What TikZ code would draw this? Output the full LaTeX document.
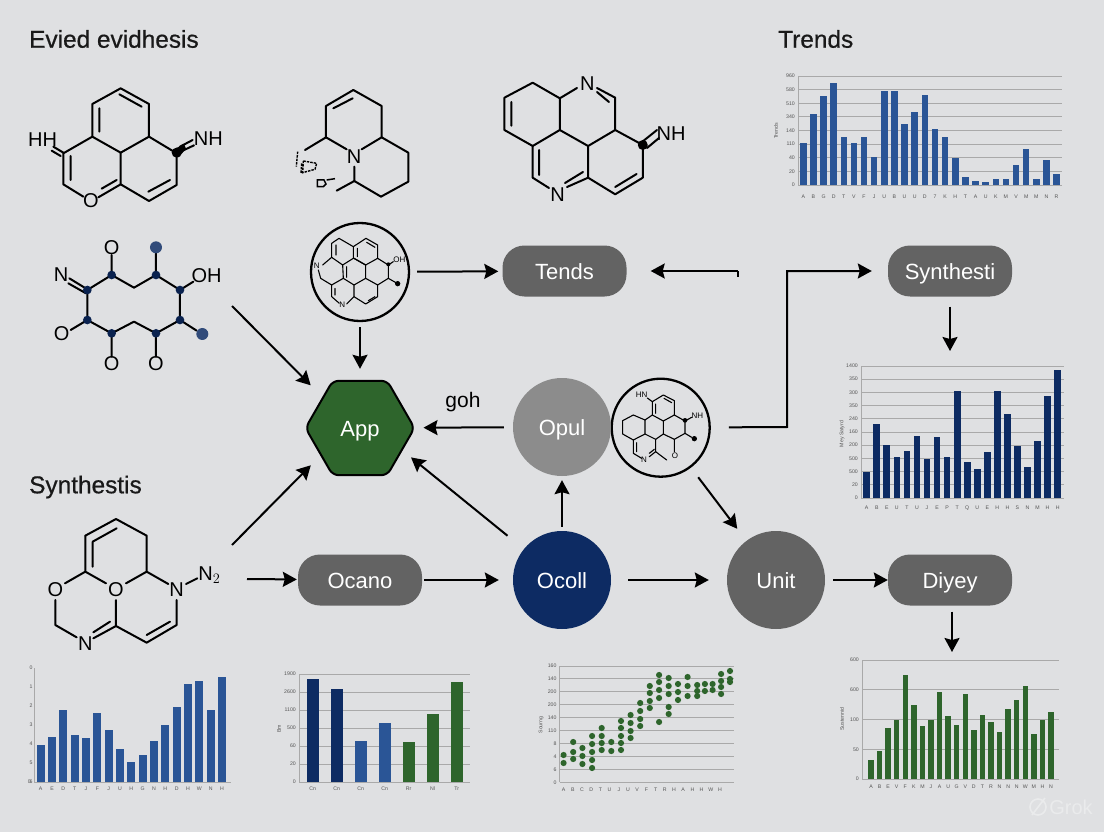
\documentclass[tikz,border=0pt]{standalone}
\usepackage{fontspec}
\setmainfont{Liberation Sans}
\newfontfamily\headfont[FakeBold=0.6]{Liberation Sans}
\usepackage{tikz}
\usetikzlibrary{shapes.geometric,arrows.meta,positioning}
\definecolor{paper}{HTML}{DFE0E2}
\definecolor{navy}{HTML}{0D2B63}
\definecolor{midblue}{HTML}{2A5596}
\definecolor{leaf}{HTML}{2E652C}
\definecolor{slate}{HTML}{636363}
\definecolor{ash}{HTML}{8C8C8C}
\definecolor{rule}{HTML}{A9A9A9}
\definecolor{tiny}{HTML}{555555}
\tikzset{
  title/.style={font=\headfont\fontsize{24.4}{26}\selectfont, inner sep=0pt, text=black!90},
  pill/.style={rectangle, rounded corners=22pt, fill=slate, text=white, minimum width=124pt, minimum height=51pt, font=\fontsize{22}{24}\selectfont, text height=16pt, text depth=0pt, inner sep=0pt},
  disc/.style={circle, text=white, minimum size=98pt, font=\fontsize{22}{24}\selectfont, text height=16pt, text depth=0pt, inner sep=0pt},
  hexa/.style={regular polygon, regular polygon sides=6, rounded corners=6pt, draw=black, line width=2pt, fill=leaf, text=white, minimum size=109pt, font=\fontsize{22}{24}\selectfont, text height=16pt, text depth=0pt, inner sep=0pt},
  ring/.style={circle, draw=black, line width=2.3pt, minimum size=98pt, inner sep=0pt},
  arr/.style={-{Stealth[length=14pt,width=15pt,inset=2pt]}, line width=2pt, black},
  mol/.style={line width=2pt, line join=round, line cap=round},
  molthin/.style={line width=1.1pt, line join=round, line cap=round},
  atom/.style={font=\fontsize{20}{20}\selectfont, inner sep=0pt},
  atomthin/.style={font=\fontsize{8}{8}\selectfont, inner sep=0pt},
  gridline/.style={rule, line width=0.9pt},
  ticktext/.style={font=\fontsize{5.2}{5.5}\selectfont, text=tiny, inner sep=0pt}
}
\newcommand{\chartaxes}[7]{
  \foreach \i in {0,...,#6}
    \draw[gridline] (#2,{#4+(#5-#4)*\i/#6}) -- (#3,{#4+(#5-#4)*\i/#6});
  \draw[gridline] (#2,#4) -- (#2,#5);
  \foreach \lab [count=\i from 0] in {#7}
    \node[ticktext, anchor=east] (#1y\i) at (#2-3,{#4+(#5-#4)*\i/#6}) {\lab};
}
\newcommand{\chartticks}[5]{
  \foreach \lab [count=\i from 0] in {#5}
    \node[ticktext] (#1x\i) at ({#2+#3*\i},#4) {\lab};
}
\newcommand{\chartbars}[6]{
  \foreach \h [count=\i from 0] in {#6}
    \fill[#5] ({#1+#3*\i-#4/2},#2) rectangle +(#4,-\h);
}
\begin{document}
\begin{tikzpicture}[x=1pt,y=-1pt]
\fill[paper] (0,0) rectangle (1104,832);
\useasboundingbox (0,0) rectangle (1104,832);

\node[title, anchor=west] (headA) at (29,39) {Evied evidhesis};
\node[title, anchor=west] (headB) at (778,39) {Trends};
\node[title, anchor=west] (headC) at (29,487) {Synthestis};

\begin{scope}[scale=1/3]
\draw[mol] (362,265) -- (447,312) -- (447,410) -- (362,458) -- (277,410) -- (277,312) -- cycle;
\draw[mol] (277,410) -- (190,460) -- (190,553) -- (250,590);
\draw[mol] (362,458) -- (362,553) -- (447,603) -- (530,555) -- (530,460) -- (447,410);
\draw[mol] (298,325) -- (298,395) (358,283) -- (425,320) (212,468) -- (212,540) (445,575) -- (510,540);
\draw[mol] (362,553) -- (295,592) (350,540) -- (305,566);
\draw[mol] (190,458) -- (160,440) (182,468) -- (155,452);
\draw[mol] (540,440) -- (578,420) (548,452) -- (582,436);
\fill (530,458) circle (15);
\fill (518,450) -- (552,432) -- (558,446) -- (536,472) -- cycle;
\node[atom] (m1hh) at (128,420) {HH};
\node[atom] (m1nh) at (625,415) {NH};
\node[atom] (m1o) at (273,602) {O};

\draw[mol] (1060,270) -- (1145,318) -- (1145,412) -- (1225,458) -- (1225,545) -- (1143,590) -- (1063,543) -- (1063,500);
\draw[mol] (1145,412) -- (1085,448) (1040,448) -- (978,412) -- (978,318) -- (1060,270);
\draw[mol] (1000,325) -- (1058,295) (978,412) -- (915,450) (1063,543) -- (1010,572);
\node[atom] (m2n) at (1062,470) {N};
\draw[line width=1.4pt, dash pattern=on 2.5pt off 1pt] (893,455) -- (889,500) (910,483) -- (950,490) -- (945,508) -- (908,518) -- cycle (905,490) -- (903,520);
\draw[line width=1.5pt] (952,540) -- (972,540) -- (978,552) -- (970,560) -- (952,560) -- cycle (980,540) -- (1005,536);

\draw[mol] (262,870) -- (335,825) -- (402,863) -- (468,825) -- (540,870) -- (540,960) -- (468,1000) -- (402,965) -- (335,1000) -- (262,960) -- cycle;
\draw[mol] (335,825) -- (335,765) (468,825) -- (468,760) (540,870) -- (580,845) (262,960) -- (212,990) (540,960) -- (590,992) (335,1000) -- (335,1070) (468,1000) -- (468,1070);
\draw[mol] (262,868) -- (208,835) (258,880) -- (205,850);
\foreach \px/\py in {262/870,335/825,468/825,540/870,540/960,468/1000,335/1000,262/960}
  \fill[navy!80!black] (\px,\py) circle (13);
\fill[navy!85] (468,742) circle (18) (607,1002) circle (18);
\node[atom] (m4n) at (183,825) {N};
\node[atom] (m4oh) at (620,827) {OH};
\node[atom] (m4oa) at (335,742) {O};
\node[atom] (m4ob) at (185,1002) {O};
\node[atom] (m4oc) at (335,1092) {O};
\node[atom] (m4od) at (468,1092) {O};
\end{scope}

\begin{scope}[shift={(0,500)},scale=1/3]
\draw[mol] (256,107) -- (348,57) -- (440,107) -- (440,215) -- (505,252) (440,215) -- (378,250);
\draw[mol] (256,107) -- (256,215) -- (318,250) (256,215) -- (195,250);
\draw[mol] (166,300) -- (166,375) -- (230,412) (280,415) -- (348,378) -- (440,428) -- (530,375) -- (530,300);
\draw[mol] (348,300) -- (348,378) (278,125) -- (350,85) (278,125) -- (278,200) (280,397) -- (330,365) (440,405) -- (510,365) (558,252) -- (592,235);
\node[atom] (m5oa) at (166,268) {O};
\node[atom] (m5ob) at (348,268) {O};
\node[atom] (m5n) at (530,268) {N};
\node[atom] (m5m) at (256,430) {N};
\node[atom] (m5nn) at (628,225) {N$_2$};
\end{scope}

\draw[mol] (532.7,82.7) -- (504.4,97.7) -- (504.4,130) -- (532.7,146) -- (559.8,130) -- (559.8,98.3) -- cycle;
\draw[mol] (559.8,98.3) -- (577,88) (597,88) -- (615.2,97.7) -- (615.2,130) -- (588.1,146) -- (559.8,130);
\draw[mol] (588.1,146) -- (588.1,177.7) -- (615.2,194.3) -- (642.8,177.7) -- (642.8,145) -- (615.2,130);
\draw[mol] (532.7,146) -- (532.7,177.7) -- (549,188) (567,187) -- (588.1,177.7);
\draw[mol] (511.3,102) -- (511.3,125.7) (597,92) -- (609,102) (539,150) -- (539,175) (565,183) -- (583,172) (615.2,187) -- (636.6,174);
\draw[mol] (642,142) -- (657,130) (647,148) -- (659,138);
\fill (642.8,145) circle (5);
\node[atom] (m3na) at (587.3,84) {N};
\node[atom] (m3nb) at (557.7,194.3) {N};
\node[atom] (m3nh) at (671,134) {NH};

\node[ring] (cirA) at (360,272) {};
\begin{scope}[scale=1/3]
\draw[molthin] (995,730) -- (1017,715) -- (1060,740) -- (1060,775) -- (1028,795) -- (995,772) -- cycle;
\draw[molthin] (1060,740) -- (1098,715) -- (1133,735) -- (1133,775) -- (1097,795) -- (1062,775);
\draw[molthin] (1028,795) -- (1030,835) -- (1062,855) -- (1097,835) -- (1097,795);
\draw[molthin] (1097,795) -- (1062,775) (1133,775) -- (1165,795) -- (1165,835) -- (1133,855) -- (1097,835);
\draw[molthin] (995,772) -- (968,795) (1030,835) -- (995,855) -- (962,835) -- (955,810);
\draw[molthin] (995,855) -- (995,890) -- (1018,910) (1040,912) -- (1062,890) -- (1062,855) (1062,890) -- (1097,912) -- (1133,890) -- (1133,855);
\draw[molthin] (1008,735) -- (1008,765) (1072,745) -- (1072,770) (1100,727) -- (1125,742) (1040,800) -- (1040,832) (1005,865) -- (1005,885) (1105,902) -- (1125,890);
\draw[molthin] (1165,835) -- (1193,851) (1165,795) -- (1180,785);
\fill (1165,793) circle (6) (1193,851) circle (8);
\node[atomthin] (cAoh) at (1198,780) {OH};
\node[atomthin] (cAn) at (950,797) {N};
\node[atomthin] (cAm) at (1027,915) {N};
\end{scope}

\node[ring] (cirB) at (660.7,427.7) {};
\begin{scope}[shift={(490,360)},scale=1/3]
\draw[molthin] (487,125) -- (520,105) -- (553,122) -- (553,165) -- (520,183) -- (487,165) -- cycle;
\draw[molthin] (553,165) -- (585,183) -- (585,220) -- (553,238) -- (520,222) -- (520,183);
\draw[molthin] (487,165) -- (465,180) -- (465,222) -- (497,238) -- (520,222);
\draw[molthin] (465,180) -- (430,165) -- (398,182) -- (398,222) -- (430,240) -- (465,222);
\draw[molthin] (430,240) -- (430,280) -- (455,295) (478,290) -- (497,275) -- (497,238);
\draw[molthin] (497,275) -- (530,300) (553,238) -- (553,275) (585,220) -- (605,232) (585,183) -- (605,172) (487,125) -- (472,114);
\draw[molthin] (497,132) -- (497,160) (522,115) -- (545,128) (440,248) -- (440,275) (478,280) -- (493,268);
\fill (585,181) circle (7) (613,236) circle (8);
\node[atomthin] (cBhn) at (455,105) {HN};
\node[atomthin] (cBnh) at (622,168) {NH};
\node[atomthin] (cBn) at (462,298) {N};
\node[atomthin] (cBo) at (555,287) {O};
\end{scope}

\node[pill] (tends) at (564.5,271) {Tends};
\node[pill] (synth) at (950,271) {Synthesti};
\node[pill] (ocano) at (360,580) {Ocano};
\node[pill] (diyey) at (950,580) {Diyey};
\node[hexa] (app) at (360,428) {App};
\node[disc, fill=ash] (opul) at (562,427) {Opul};
\node[disc, fill=navy] (ocoll) at (562,580) {Ocoll};
\node[disc, fill=slate] (unit) at (776,580) {Unit};
\node[atom, font=\fontsize{21}{21}\selectfont] (goh) at (463,402) {goh};

\coordinate (molEnd) at (232,306);
\coordinate (synEnd) at (232,545);
\coordinate (synOut) at (247,579);
\coordinate (trEnd) at (738,271);
\coordinate (bend) at (787,427);
\coordinate (diyOut) at (952,652);

\draw[arr, shorten >=70pt] (molEnd) -- ([yshift=-7pt]app.center);
\draw[arr, shorten >=70pt] (synEnd) -- ([yshift=12.5pt]app.center);
\draw[arr, shorten <=5pt, shorten >=11pt] (cirA) -- (app);
\draw[arr, shorten <=7pt, shorten >=4pt] (cirA) -- (tends);
\draw[arr, shorten >=24pt] (trEnd) -- (tends);
\draw[line width=2pt] (trEnd) -- ++(0,6);
\draw[arr, shorten <=18pt, shorten >=16pt] (cirB) -- (bend) |- (synth);
\draw[arr, shorten <=10pt, shorten >=4pt] (synth) -- (950,355);
\draw[arr, shorten <=9pt, shorten >=8pt] (opul) -- (app);
\draw[arr, shorten <=4pt, shorten >=4pt] (ocoll) -- (opul);
\draw[arr, shorten <=21pt, shorten >=65.7pt] (ocoll) -- ([yshift=12pt]app.center);
\draw[arr, shorten >=1pt] (synOut) -- (ocano);
\draw[arr, shorten <=2pt, shorten >=14pt] (ocano) -- (ocoll);
\draw[arr, shorten <=17pt, shorten >=18pt] (ocoll) -- (unit);
\draw[arr, shorten <=8pt, shorten >=0pt] (unit) -- (diyey);
\draw[arr, shorten <=12pt, shorten >=15pt] (cirB) -- (unit);
\draw[arr, shorten <=6pt] (diyey.south -| diyOut) -- (diyOut);

\chartaxes{ca}{798}{1062}{76}{185}{8}{960,580,510,340,140,110,40,20,0}
\chartbars{803.3}{185}{10.13}{6.5}{midblue}{41.7,71,89.3,101.7,47.7,41.7,48.3,28.3,94.3,94.3,61,73.3,90,55.7,48.3,26.7,8.3,4.3,3.3,6.3,5.7,20.3,35.7,5.7,24.7,10.7}
\chartticks{ca}{803.3}{10.13}{197}{A,B,G,D,T,V,F,J,U,B,U,U,D,7,K,H,T,A,U,K,M,V,M,M,N,R}
\node[ticktext, rotate=90] (cat) at (776,131) {Trends};

\chartaxes{cb}{861}{1064}{366}{498}{10}{1400,350,300,350,240,160,200,500,500,20,0}
\chartbars{866.7}{498}{10.05}{6.7}{navy}{26.3,74,52.7,40.7,47.3,62.3,39.3,61.3,41,107,36,29,45.7,106.7,83.7,52,31.3,57.3,102,128.3}
\chartticks{cb}{866.7}{10.05}{508}{A,B,E,U,T,U,J,E,P,T,Q,U,E,H,H,S,N,M,H,H}
\node[ticktext, rotate=90] (cbt) at (842,434) {Mey Satyrd};

\chartaxes{cc}{34}{231}{782}{782}{1}{,0}
\draw[gridline] (34,668) -- (34,782);
\foreach \i in {0,...,6}
  \node[ticktext] (ccy\i) at (31,{668+19*\i}) {\i};
\chartbars{40.7}{782}{11.33}{8}{midblue}{36.7,45.3,71.7,46.7,43.7,69,52,33,20,26.7,40.7,56.7,75.3,97.7,101,72,105}
\chartticks{cc}{40.7}{11.33}{789}{A,E,D,T,J,F,J,U,H,G,N,H,D,H,W,N,H}

\chartaxes{cd}{299}{470}{674}{782}{6}{1900,2600,1100,500,60,20,0}
\chartbars{312.7}{782}{24}{12}{navy}{103.3,93}
\chartbars{360.7}{782}{23.8}{12}{midblue}{41.3,59}
\chartbars{409}{782}{24}{12}{leaf}{40.3,67.7,99.7}
\chartticks{cd}{312.7}{24}{789}{Cn,Cn,Cn,Cn,Rr,Nl,Tr}
\node[ticktext, rotate=90] (cdt) at (279,729) {Bm};

\chartaxes{ce}{559.7}{733.8}{666}{782.3}{9}{160,140,200,200,140,110,8,4,6,0}
\foreach \x/\ys in {563.6/{755,763},573.2/{742,752,759},582.4/{748,756,764},592.1/{736,744,752,760,768},601.7/{728,736,743,750},611.3/{742,751},621/{721,728,736,743,750},630.6/{715,723,731,738},640.2/{703,711,719,726},649.8/{686,693,701,708},659.1/{675,682,690,698,722},668.7/{678,686,694,707,714},678/{684,692,700},687.6/{677,686,696},697.2/{685,691,696},704.9/{684,691},712.6/{684,690},721.1/{674,681,687,694},730/{671,679,682}}
  \foreach \y in \ys
    \fill[leaf] (\x,\y) circle (3.1);
\chartticks{ce}{563.6}{9.2}{790}{A,B,C,D,T,U,J,U,V,F,T,R,H,A,H,H,W,H}
\node[ticktext, rotate=90] (cet) at (541,725) {Sourng};

\chartaxes{cf}{862}{1058.5}{660}{779}{4}{600,600,100,50,0}
\chartbars{871}{779}{8.57}{5.4}{leaf}{19,27.7,51.3,59.3,103.7,74,53,59.3,87.3,63,54,84.7,49.3,64.3,57,47,70.3,79.3,93.3,45,59,67}
\chartticks{cf}{871}{8.57}{787}{A,B,E,V,F,K,M,J,A,U,G,V,D,T,R,N,N,N,W,M,H,N}
\node[ticktext, rotate=90] (cft) at (842,719) {Sustennid};

\node[font=\fontsize{20}{20}\selectfont, text=white!35!paper, inner sep=0pt] (mark) at (1071,807) {Grok};
\draw[white!35!paper, line width=1.6pt] (1038,807) circle (8) (1032,815) -- (1045,798);
\end{tikzpicture}
\end{document}
